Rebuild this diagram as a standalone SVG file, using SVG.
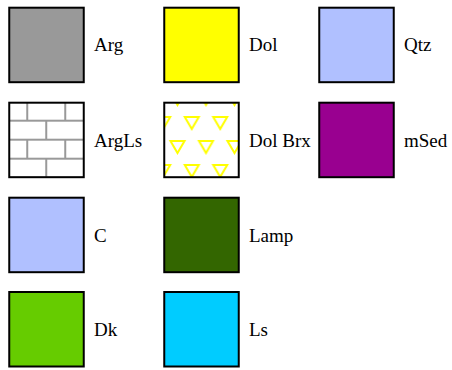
<svg xmlns="http://www.w3.org/2000/svg" width="452" height="370" viewBox="0 0 452 370">
  <style>
    .sw { stroke: #000; stroke-width: 2; }
  </style>
  <defs>
    <!-- brick wall fill for argillaceous limestone -->
    <pattern id="brick" patternUnits="userSpaceOnUse" x="8.25" y="101.7" width="38" height="38">
      <rect width="38" height="38" fill="#fff"/>
      <g stroke="#999" stroke-width="2" fill="none">
        <line x1="0" y1="19" x2="38" y2="19"/>
        <line x1="0" y1="38" x2="38" y2="38"/>
        <line x1="0" y1="0" x2="38" y2="0"/>
        <line x1="19" y1="0" x2="19" y2="19"/>
        <line x1="0" y1="19" x2="0" y2="38"/>
        <line x1="38" y1="19" x2="38" y2="38"/>
      </g>
    </pattern>
    <!-- inverted triangles for dolomite breccia -->
    <pattern id="brx" patternUnits="userSpaceOnUse" x="163.25" y="92" width="28.5" height="48">
      <rect width="28.5" height="48" fill="#fff"/>
      <g stroke="#ffff00" stroke-width="2" fill="none">
        <polygon points="7.25,1 21.25,1 14.25,13"/>
        <polygon points="-7,25 7,25 0,37"/>
        <polygon points="21.5,25 35.5,25 28.5,37"/>
      </g>
    </pattern>
  </defs>

  <g id="arg">
    <rect class="sw" x="9.25" y="7.7" width="74.5" height="74.5" fill="#999999"/>
    <text x="94" y="51.3" font-size="19" font-family="Liberation Serif">Arg</text>
  </g>
  <g id="dol">
    <rect class="sw" x="164.25" y="7.7" width="74.5" height="74.5" fill="#ffff00"/>
    <text x="249" y="51.3" font-size="19" font-family="Liberation Serif">Dol</text>
  </g>
  <g id="qtz">
    <rect class="sw" x="319.25" y="7.7" width="74.5" height="74.5" fill="#b0c0ff"/>
    <text x="404" y="51.3" font-size="19" font-family="Liberation Serif">Qtz</text>
  </g>

  <g id="argls">
    <rect class="sw" x="9.25" y="102.7" width="74.5" height="74.5" fill="url(#brick)"/>
    <text x="94" y="146.5" font-size="19" font-family="Liberation Serif">ArgLs</text>
  </g>
  <g id="dolbrx">
    <rect class="sw" x="164.25" y="102.7" width="74.5" height="74.5" fill="url(#brx)"/>
    <text x="249" y="146.5" font-size="19" font-family="Liberation Serif">Dol Brx</text>
  </g>
  <g id="msed">
    <rect class="sw" x="319.25" y="102.7" width="74.5" height="74.5" fill="#990090"/>
    <text x="404" y="146.5" font-size="19" font-family="Liberation Serif">mSed</text>
  </g>

  <g id="c">
    <rect class="sw" x="9.25" y="197.7" width="74.5" height="74.5" fill="#b0c0ff"/>
    <text x="94" y="241.5" font-size="19" font-family="Liberation Serif">C</text>
  </g>
  <g id="lamp">
    <rect class="sw" x="164.25" y="197.7" width="74.5" height="74.5" fill="#336600"/>
    <text x="249" y="241.5" font-size="19" font-family="Liberation Serif">Lamp</text>
  </g>

  <g id="dk">
    <rect class="sw" x="9.25" y="292" width="74.5" height="74.5" fill="#66cc00"/>
    <text x="94" y="335.8" font-size="19" font-family="Liberation Serif">Dk</text>
  </g>
  <g id="ls">
    <rect class="sw" x="164.25" y="292" width="74.5" height="74.5" fill="#00ccff"/>
    <text x="249" y="335.8" font-size="19" font-family="Liberation Serif">Ls</text>
  </g>

  <g id="connectors"/>
</svg>
